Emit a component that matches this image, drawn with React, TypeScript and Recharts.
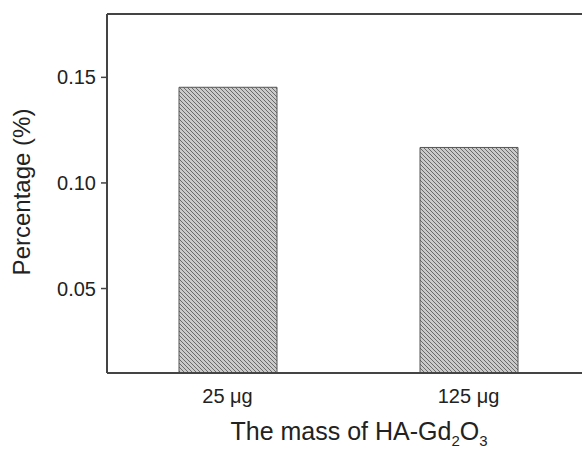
import React from 'react';
import { BarChart, Bar, XAxis, YAxis, ReferenceLine } from 'recharts';

const categories = ['25 μg', '125 μg'];
const percentages = [0.1453, 0.1168];
const yTicks = [0.05, 0.1, 0.15];
const yDomain = [0.01, 0.18];

const data = categories.map((c, i) => ({ name: c, value: percentages[i] }));

const FONT = '"Liberation Sans", Arial, sans-serif';

const XLabel = (props: any) => {
  const vb = props.viewBox || {};
  const cx = vb.x + vb.width / 2 + 11;
  return (
    <text x={cx} y={440} textAnchor="middle" fontFamily={FONT} fontSize={25} fill="#222">
      <tspan>The mass of HA-Gd</tspan>
      <tspan fontSize={15} dy={6}>2</tspan>
      <tspan dy={-6}>O</tspan>
      <tspan fontSize={15} dy={6}>3</tspan>
    </text>
  );
};

const YLabel = () => (
  <text
    x={30}
    y={192}
    transform="rotate(-90 30 192)"
    textAnchor="middle"
    fontFamily={FONT}
    fontSize={24}
    fill="#222"
  >
    Percentage (%)
  </text>
);

export default function App() {
  return (
    <div style={{ position: 'fixed', left: 0, top: 0, width: 582, height: 449, overflow: 'hidden', background: '#fff' }}>
      <BarChart
        width={600}
        height={449}
        data={data}
        margin={{ top: 14, right: 11, bottom: 0, left: 0 }}
        barSize={98}
      >
        <defs>
          <pattern id="hatch" patternUnits="userSpaceOnUse" width="4" height="4">
            <rect x="0" y="0" width="4" height="4" fill="#cacaca" />
            <path d="M-1,-1 L5,5 M-1,3 L1,5 M3,-1 L5,1" stroke="#6a6a6a" strokeWidth="1" />
          </pattern>
        </defs>
        <XAxis
          dataKey="name"
          height={76}
          tickLine={false}
          axisLine={{ stroke: '#444', strokeWidth: 2 }}
          tick={{ fontFamily: FONT, fontSize: 20, fill: '#222' }}
          tickMargin={10}
          label={<XLabel />}
        />
        <YAxis
          width={107}
          domain={yDomain}
          ticks={yTicks}
          type="number"
          allowDataOverflow
          tickSize={6}
          tickMargin={5}
          tickFormatter={(v: number) => v.toFixed(2)}
          tickLine={{ stroke: '#444', strokeWidth: 1.5 }}
          axisLine={{ stroke: '#444', strokeWidth: 2 }}
          tick={{ fontFamily: FONT, fontSize: 20, fill: '#222' }}
          label={<YLabel />}
        />
        <ReferenceLine y={0.18} stroke="#444" strokeWidth={2} />
        <Bar dataKey="value" fill="url(#hatch)" stroke="#555" strokeWidth={1} isAnimationActive={false} />
      </BarChart>
    </div>
  );
}
